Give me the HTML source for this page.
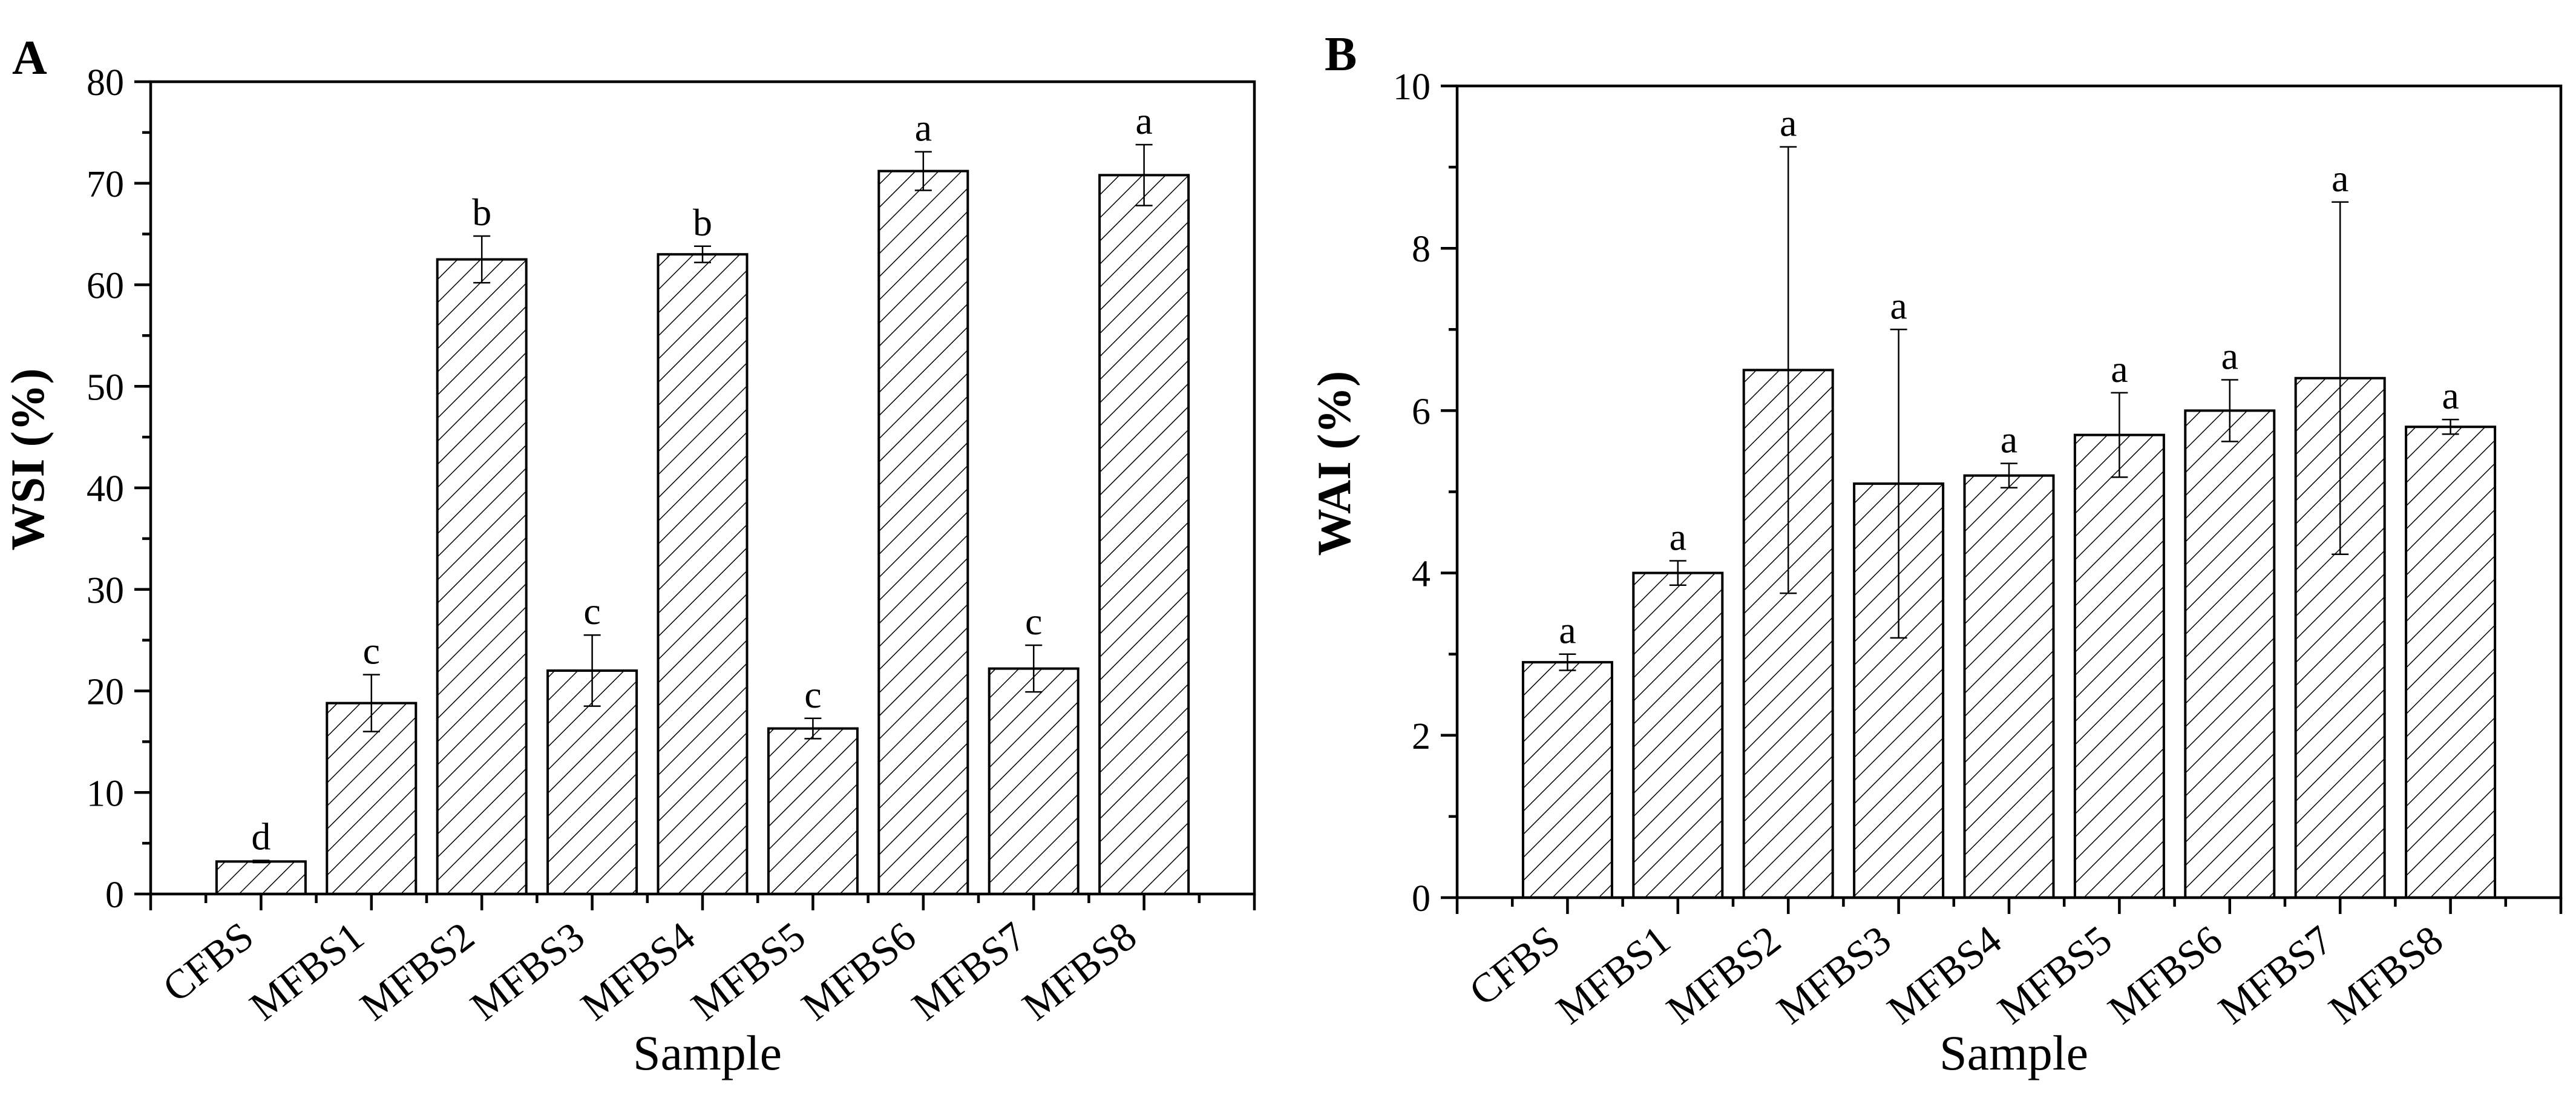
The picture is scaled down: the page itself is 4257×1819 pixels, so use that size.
<!DOCTYPE html>
<html><head><meta charset="utf-8"><style>
html,body{margin:0;padding:0;background:#fff;}
svg{display:block;font-family:"Liberation Serif","Times New Roman",serif;}
</style></head><body>
<svg id="chart" width="4257" height="1819" viewBox="0 0 4257 1819" xmlns="http://www.w3.org/2000/svg">
<defs>
<pattern id="hatch" patternUnits="userSpaceOnUse" width="27" height="27" patternTransform="rotate(45)">
<line x1="0" y1="0" x2="0" y2="27" stroke="#000" stroke-width="3"/>
</pattern>
</defs>
<text x="20" y="122" font-size="80" font-weight="bold">A</text>
<text x="2189" y="116" font-size="80" font-weight="bold">B</text>
<g id="pa"></g>
<g id="pb"></g>
</svg>
<script>
const categories = ["CFBS","MFBS1","MFBS2","MFBS3","MFBS4","MFBS5","MFBS6","MFBS7","MFBS8"];
const wsiValues = [3.2,18.8,62.5,22.0,63.0,16.3,71.2,22.2,70.8];
const wsiErrors = [0.1,2.8,2.3,3.5,0.8,1.0,1.9,2.3,3.0];
const wsiLetters = ["d","c","b","c","b","c","a","c","a"];
const wsiTicks = [0,10,20,30,40,50,60,70,80];
const waiValues = [2.9,4.0,6.5,5.1,5.2,5.7,6.0,6.4,5.8];
const waiErrors = [0.1,0.15,2.75,1.9,0.15,0.52,0.38,2.17,0.09];
const waiLetters = ["a","a","a","a","a","a","a","a","a"];
const waiTicks = [0,2,4,6,8,10];

const NS="http://www.w3.org/2000/svg";
function mk(parent,tag,attrs,text){
  const e=document.createElementNS(NS,tag);
  for(const k in attrs) e.setAttribute(k,attrs[k]);
  if(text!==undefined) e.textContent=text;
  parent.appendChild(e); return e;
}
function panel(gid,L,T,B,yMax,vals,errs,letters,ticks,title,prefix){
  const g=document.getElementById(gid);
  const R=L+10*182.4;
  const step=(R-L)/10;
  const y=v=>B-(v/yMax)*(B-T);
  const x=i=>L+(i+1)*step;
  const bw=147;
  // bars
  vals.forEach((v,i)=>{
    const r=mk(g,'rect',{x:x(i)-bw/2,y:y(v),width:bw,height:B-y(v),fill:'url(#hatch)',stroke:'#000','stroke-width':4});
    
    
  });
  // error bars
  vals.forEach((v,i)=>{
    const eg=mk(g,'g',{stroke:'#000','stroke-width':2.5});
    
    
    const cx=x(i),t=y(v+errs[i]),b=y(v-errs[i]);
    mk(eg,'line',{x1:cx,y1:t,x2:cx,y2:b});
    mk(eg,'line',{x1:cx-14,y1:t,x2:cx+14,y2:t});
    mk(eg,'line',{x1:cx-14,y1:b,x2:cx+14,y2:b});
    const lt=mk(g,'text',{x:cx,y:t-18,'font-size':64,'text-anchor':'middle'},letters[i]);
    
    
  });
  // frame
  const fr=mk(g,'rect',{x:L,y:T,width:R-L,height:B-T,fill:'none',stroke:'#000','stroke-width':4.5});
  
  
  // y ticks
  const yax=mk(g,'g',{});
  
  
  const dt=ticks[1]-ticks[0];
  ticks.forEach((tv,k)=>{
    mk(yax,'line',{x1:L-27,y1:y(tv),x2:L,y2:y(tv),stroke:'#000','stroke-width':4.5});
    if(k<ticks.length-1) mk(yax,'line',{x1:L-14,y1:y(tv+dt/2),x2:L,y2:y(tv+dt/2),stroke:'#000','stroke-width':4.5});
    const tl=mk(yax,'text',{x:L-44,y:y(tv)+22,'font-size':62,'text-anchor':'end'},String(tv));
    
    
  });
  // x ticks
  const xax=mk(g,'g',{});
  
  
  mk(xax,'line',{x1:L,y1:B,x2:L,y2:B+27,stroke:'#000','stroke-width':4.5});
  mk(xax,'line',{x1:R,y1:B,x2:R,y2:B+27,stroke:'#000','stroke-width':4.5});
  categories.forEach((c,i)=>{
    mk(xax,'line',{x1:x(i),y1:B,x2:x(i),y2:B+27,stroke:'#000','stroke-width':4.5});
    mk(xax,'line',{x1:x(i)-step/2,y1:B,x2:x(i)-step/2,y2:B+15,stroke:'#000','stroke-width':4.5});
    if(i===categories.length-1) mk(xax,'line',{x1:x(i)+step/2,y1:B,x2:x(i)+step/2,y2:B+15,stroke:'#000','stroke-width':4.5});
    const ax=x(i)-8, ay=B+79;
    const tl=mk(xax,'text',{x:ax,y:ay,'font-size':68,'text-anchor':'end',transform:`rotate(-38 ${ax} ${ay})`},c);
    
    
  });
  const yt=L-177, yc=T+(B-T)*0.465;
  const t1=mk(g,'text',{x:yt,y:yc,'font-size':78,'font-weight':'bold','text-anchor':'middle',transform:`rotate(-90 ${yt} ${yc})`},title);
  
  
  const t2=mk(g,'text',{x:(L+R)/2+8,y:1767,'font-size':82,'text-anchor':'middle'},'Sample');
  
  
}
panel('pa',249,135,1477,80,wsiValues,wsiErrors,wsiLetters,wsiTicks,'WSI (%)','wsi');
panel('pb',2408,142,1483,10,waiValues,waiErrors,waiLetters,waiTicks,'WAI (%)','wai');
</script>
</body></html>
